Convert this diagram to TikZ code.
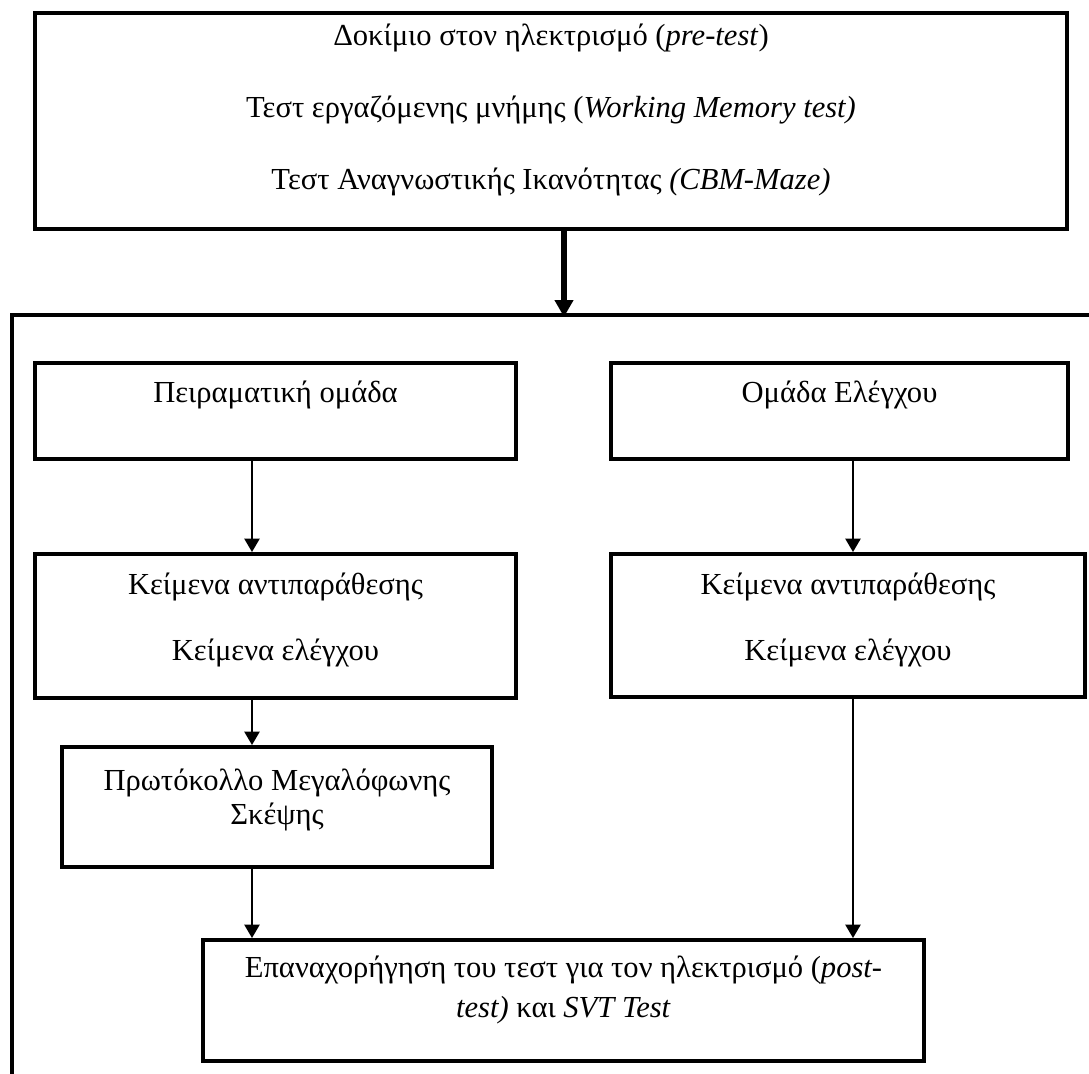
\documentclass[tikz,border=0pt]{standalone}
\usepackage{fontspec}
\setmainfont{Liberation Serif}
\usetikzlibrary{arrows.meta}

\begin{document}
\begin{tikzpicture}[x=0.02cm,y=-0.02cm]
\tikzstyle{every node}=[inner sep=0pt, font=\fontsize{17.4}{20}\selectfont]
\tikzstyle{box}=[draw, rectangle, line width=2.2pt]
\tikzstyle{txt}=[align=center]
\tikzstyle{arr}=[line width=1.5pt, -{Triangle[length=0.27cm,width=0.3cm]}]
\tikzstyle{bigarr}=[line width=3pt, -{Triangle[length=0.34cm,width=0.36cm]}]
\useasboundingbox (0,0) rectangle (1089,1074);
% open frame round the two groups
\draw[line width=2.2pt] (1089,315) -- (12,315) -- (12,1074);
% boxes
\draw (551,121) node (test) [box, minimum width=20.64cm, minimum height=4.32cm] {};
\draw (551,110) node (test-t) [txt, font=\fontsize{17.4}{41}\selectfont] {Δοκίμιο στον ηλεκτρισμό (\textit{pre-test})\\ Τεστ εργαζόμενης μνήμης (\textit{Working Memory test)}\\ Τεστ Αναγνωστικής Ικανότητας \textit{(CBM-Maze)}};
\draw (275.5,411) node (pei) [box, minimum width=9.62cm, minimum height=1.92cm] {};
\draw (275.5,395) node (pei-t) [txt] {Πειραματική ομάδα};
\draw (839.5,411) node (ome) [box, minimum width=9.14cm, minimum height=1.92cm] {};
\draw (839.5,395) node (ome-t) [txt] {Ομάδα Ελέγχου};
\draw (275.5,626) node (keiL) [box, minimum width=9.62cm, minimum height=2.88cm] {};
\draw (275.5,620) node (keiL-t) [txt, font=\fontsize{17.4}{38}\selectfont] {Κείμενα αντιπαράθεσης\\ Κείμενα ελέγχου};
\draw (848,625.5) node (keiR) [box, minimum width=9.48cm, minimum height=2.86cm] {};
\draw (848,620) node (keiR-t) [txt, font=\fontsize{17.4}{38}\selectfont] {Κείμενα αντιπαράθεσης\\ Κείμενα ελέγχου};
\draw (277,807) node (pro) [box, minimum width=8.6cm, minimum height=2.4cm] {};
\draw (277,800) node (pro-t) [txt, font=\fontsize{17.4}{19.5}\selectfont] {Πρωτόκολλο Μεγαλόφωνης\\ Σκέψης};
\draw (563.5,1000.5) node (epa) [box, minimum width=14.42cm, minimum height=2.42cm] {};
\draw (563.5,990) node (epa-t) [txt, font=\fontsize{17.4}{23}\selectfont] {Επαναχορήγηση του τεστ για τον ηλεκτρισμό (\textit{post-}\\ \textit{test)} και \textit{SVT Test}};
% arrows
\coordinate (lx) at (252,0);
\coordinate (rx) at (853,0);
\coordinate (fr) at (564,317);
\draw[bigarr] (test.south -| fr) -- (fr);
\draw[arr] (pei.south -| lx) -- (keiL.north -| lx);
\draw[arr] (keiL.south -| lx) -- (pro.north -| lx);
\draw[arr] (pro.south -| lx) -- (epa.north -| lx);
\draw[arr] (ome.south -| rx) -- (keiR.north -| rx);
\draw[arr] (keiR.south -| rx) -- (epa.north -| rx);
\end{tikzpicture}
\end{document}
